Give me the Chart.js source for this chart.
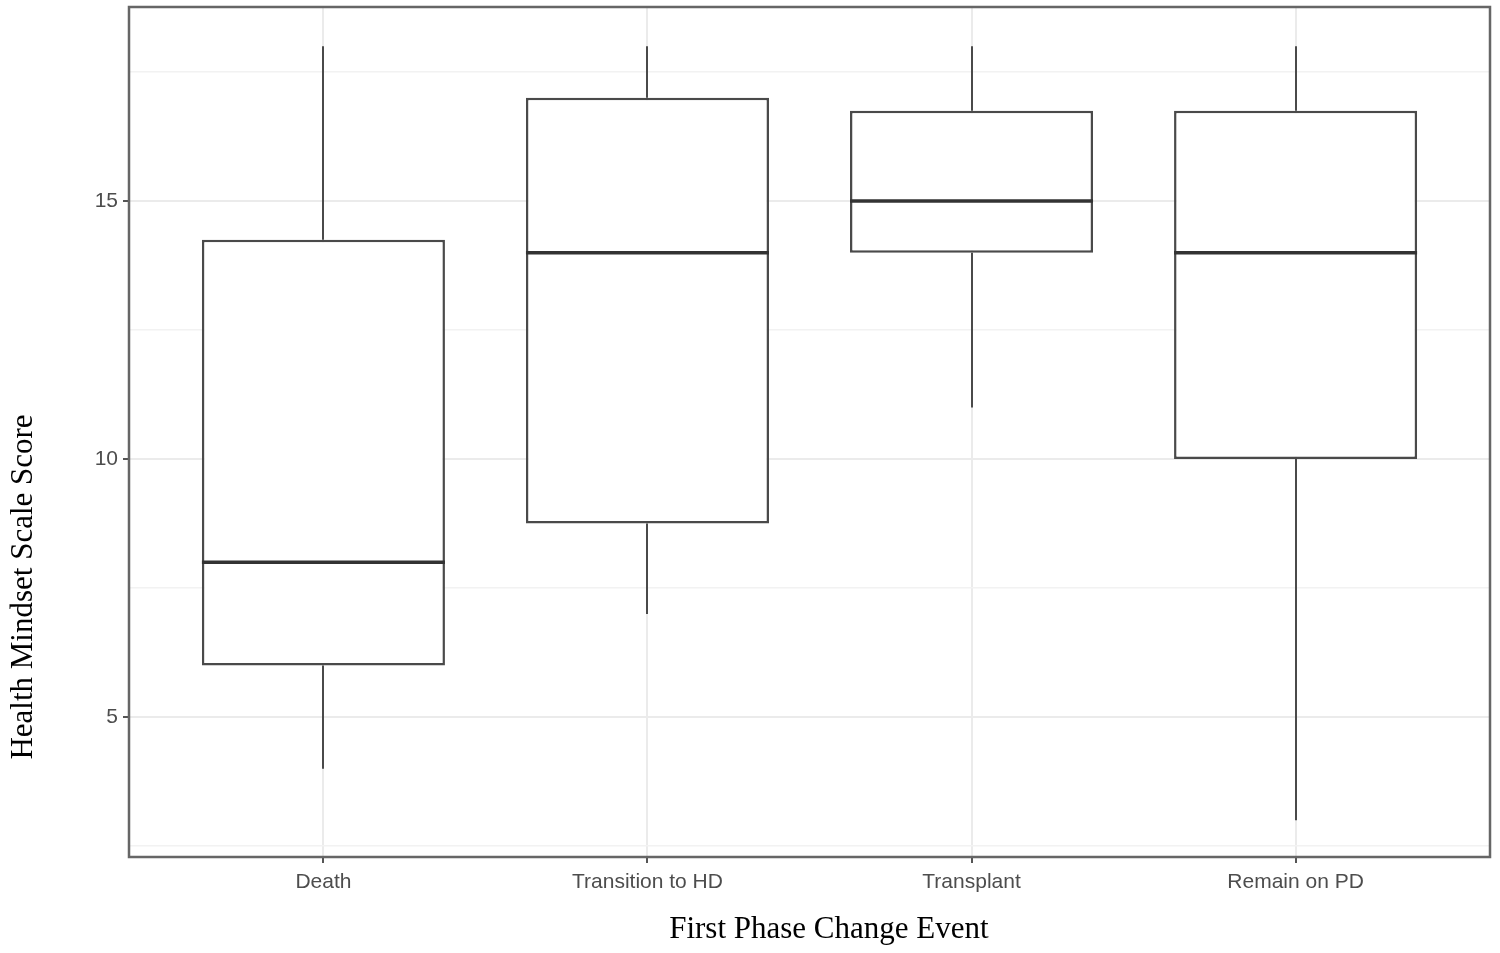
<!DOCTYPE html>
<html>
<head>
<meta charset="utf-8">
<script src="https://cdn.jsdelivr.net/npm/chart.js@4/dist/chart.umd.min.js"></script>
<style>
  html, body { margin: 0; padding: 0; background: #ffffff; }
  #wrap { width: 1500px; height: 953px; position: relative; }
</style>
</head>
<body>
<div id="wrap"><canvas id="c" width="1500" height="953"></canvas></div>
<script>
// ---- data ----
const categories = ["Death", "Transition to HD", "Transplant", "Remain on PD"];
const whiskerLow  = [4, 7, 11, 3];
const q1          = [6, 8.75, 14, 10];
const median      = [8, 14, 15, 14];
const q3          = [14.25, 17, 16.75, 16.75];
const whiskerHigh = [18, 18, 18, 18];
const yMajorTicks = [5, 10, 15];
const yMinorTicks = [2.5, 7.5, 12.5, 17.5];
const xTitle = "First Phase Change Event";
const yTitle = "Health Mindset Scale Score";

const boxData = categories.map((c, i) => ({ x: i + 1, y: [q1[i], q3[i]] }));
const isMajor = v => yMajorTicks.includes(v);

const boxPlugin = {
  id: 'boxParts',
  beforeDatasetsDraw(chart) {
    const { ctx, scales: { x, y } } = chart;
    ctx.save();
    ctx.strokeStyle = '#4a4a4a';
    ctx.lineWidth = 2;
    categories.forEach((c, i) => {
      const px = Math.round(x.getPixelForValue(i + 1));
      ctx.beginPath();
      ctx.moveTo(px, y.getPixelForValue(whiskerHigh[i]));
      ctx.lineTo(px, y.getPixelForValue(q3[i]));
      ctx.moveTo(px, y.getPixelForValue(q1[i]));
      ctx.lineTo(px, y.getPixelForValue(whiskerLow[i]));
      ctx.stroke();
    });
    ctx.restore();
  },
  afterDatasetsDraw(chart) {
    const { ctx, scales: { x, y } } = chart;
    const meta = chart.getDatasetMeta(0);
    ctx.save();
    ctx.strokeStyle = '#333333';
    ctx.lineWidth = 3.5;
    meta.data.forEach((bar, i) => {
      const half = bar.width / 2;
      const py = y.getPixelForValue(median[i]);
      ctx.beginPath();
      ctx.moveTo(bar.x - half, py);
      ctx.lineTo(bar.x + half, py);
      ctx.stroke();
    });
    ctx.restore();
  },
  afterDraw(chart) {
    const { ctx, chartArea: a } = chart;
    ctx.save();
    ctx.strokeStyle = '#666666';
    ctx.lineWidth = 2.5;
    ctx.strokeRect(a.left, a.top, a.right - a.left, a.bottom - a.top);
    ctx.restore();
  }
};

new Chart(document.getElementById('c'), {
  type: 'bar',
  data: {
    datasets: [{
      data: boxData,
      backgroundColor: '#ffffff',
      borderColor: '#4a4a4a',
      borderWidth: 2.5,
      borderSkipped: false,
      categoryPercentage: 1,
      barPercentage: 0.75
    }]
  },
  options: {
    responsive: false,
    animation: false,
    layout: { padding: { top: 7, right: 10, left: 0, bottom: 0 } },
    plugins: { legend: { display: false }, tooltip: { enabled: false } },
    scales: {
      x: {
        type: 'linear',
        offset: false,
        min: 0.4,
        max: 4.6,
        afterBuildTicks(scale) { scale.ticks = categories.map((c, i) => ({ value: i + 1 })); },
        afterFit(scale) { scale.height = 96; scale.paddingLeft = 0; scale.paddingRight = 0; },
        ticks: {
          callback: v => categories[v - 1],
          color: '#4d4d4d',
          font: { family: 'Liberation Sans', size: 21 },
          padding: 7,
          maxRotation: 0,
          autoSkip: false
        },
        grid: { offset: false, color: '#ebebeb', lineWidth: 2, tickLength: 6, tickColor: '#555555', drawOnChartArea: true },
        border: { display: false },
        title: {
          display: true,
          text: '     ' + xTitle,
          color: '#000000',
          font: { family: 'Liberation Serif', size: 31 },
          padding: { top: 0, bottom: 5 }
        }
      },
      y: {
        min: 2.29,
        max: 18.76,
        afterBuildTicks(scale) {
          scale.ticks = yMinorTicks.concat(yMajorTicks).sort((a, b) => a - b).map(v => ({ value: v }));
        },
        afterFit(scale) { scale.width = 129; scale.paddingTop = 0; scale.paddingBottom = 0; },
        ticks: {
          callback: v => (isMajor(v) ? String(v) : ''),
          color: '#4d4d4d',
          font: { family: 'Liberation Sans', size: 21 },
          padding: 5,
          autoSkip: false
        },
        grid: {
          color: ctx => (ctx.tick && isMajor(ctx.tick.value) ? '#ebebeb' : '#f2f2f2'),
          lineWidth: ctx => (ctx.tick && isMajor(ctx.tick.value) ? 2 : 1.5),
          tickLength: 6,
          tickColor: ctx => (ctx.tick && isMajor(ctx.tick.value) ? '#555555' : 'rgba(0,0,0,0)')
        },
        border: { display: false },
        title: {
          display: true,
          text: yTitle + ' '.repeat(40),
          color: '#000000',
          font: { family: 'Liberation Serif', size: 31 },
          padding: { top: 5, bottom: 0 }
        }
      }
    }
  },
  plugins: [boxPlugin]
});
</script>
</body>
</html>
